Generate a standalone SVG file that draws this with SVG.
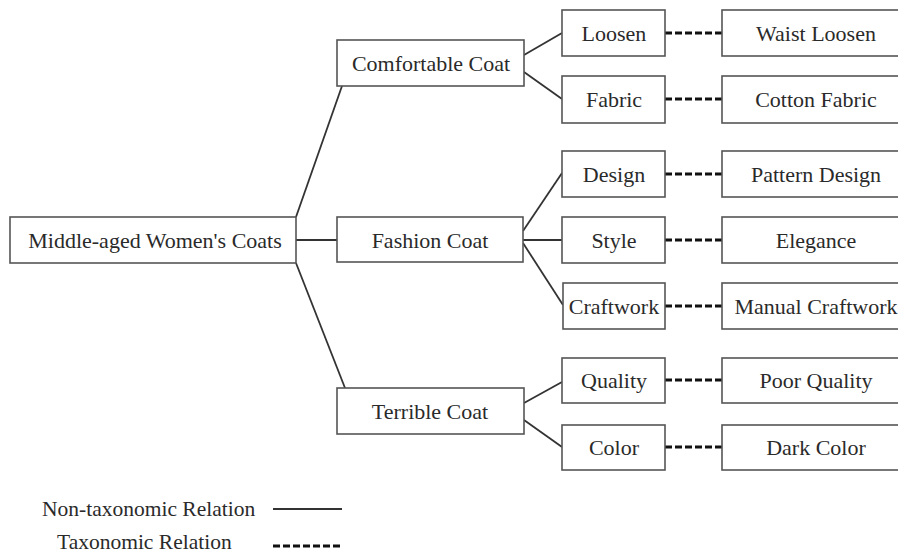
<svg xmlns="http://www.w3.org/2000/svg" width="898" height="555" viewBox="0 0 898 555">
<style>
.box{fill:#fff;stroke:#555;stroke-width:1.6}
.t{font-family:"Liberation Serif","Times New Roman",serif;font-size:22px;fill:#2a2a2a;text-anchor:middle;dominant-baseline:central}
.lg{font-family:"Liberation Serif","Times New Roman",serif;font-size:21.5px;fill:#2a2a2a;dominant-baseline:central}
.solid{stroke:#333;stroke-width:1.8;fill:none}
.dash{stroke:#111;stroke-width:3;stroke-dasharray:7 3;fill:none}
</style>
<rect width="898" height="555" fill="#fff"/>
<g id="connectors">
<line class="solid" x1="296" y1="217" x2="342" y2="86"/>
<line class="solid" x1="296" y1="240" x2="337" y2="240"/>
<line class="solid" x1="296" y1="263" x2="345" y2="388"/>
<line class="solid" x1="524" y1="55" x2="562" y2="33"/>
<line class="solid" x1="524" y1="72" x2="562" y2="99"/>
<line class="solid" x1="523" y1="231" x2="562" y2="173"/>
<line class="solid" x1="523" y1="240" x2="562" y2="240"/>
<line class="solid" x1="523" y1="243" x2="563" y2="305"/>
<line class="solid" x1="524" y1="403" x2="562" y2="382"/>
<line class="solid" x1="524" y1="420" x2="562" y2="447"/>
<line class="dash" x1="665" y1="33" x2="722" y2="33"/>
<line class="dash" x1="665" y1="99" x2="722" y2="99"/>
<line class="dash" x1="665" y1="174" x2="722" y2="174"/>
<line class="dash" x1="665" y1="240" x2="722" y2="240"/>
<line class="dash" x1="665" y1="306" x2="722" y2="306"/>
<line class="dash" x1="665" y1="380" x2="722" y2="380"/>
<line class="dash" x1="665" y1="447" x2="722" y2="447"/>
</g>
<g id="root"><rect class="box" x="10" y="217" width="286" height="46"/><text class="t" x="155" y="240">Middle-aged Women's Coats</text></g>
<g id="comfortable"><rect class="box" x="337" y="40" width="187" height="46"/><text class="t" x="431" y="63">Comfortable Coat</text></g>
<g id="fashion"><rect class="box" x="337" y="217" width="186" height="45"/><text class="t" x="430" y="240">Fashion Coat</text></g>
<g id="terrible"><rect class="box" x="337" y="388" width="187" height="46"/><text class="t" x="430" y="411">Terrible Coat</text></g>
<g id="loosen"><rect class="box" x="562" y="10" width="103" height="46"/><text class="t" x="614" y="33">Loosen</text></g>
<g id="fabric"><rect class="box" x="562" y="76" width="103" height="47"/><text class="t" x="614" y="99">Fabric</text></g>
<g id="design"><rect class="box" x="562" y="151" width="103" height="46"/><text class="t" x="614" y="174">Design</text></g>
<g id="style"><rect class="box" x="562" y="217" width="103" height="46"/><text class="t" x="614" y="240">Style</text></g>
<g id="craftwork"><rect class="box" x="563" y="283" width="102" height="46"/><text class="t" x="614" y="306">Craftwork</text></g>
<g id="quality"><rect class="box" x="562" y="358" width="103" height="45"/><text class="t" x="614" y="380">Quality</text></g>
<g id="color"><rect class="box" x="562" y="425" width="103" height="45"/><text class="t" x="614" y="447">Color</text></g>
<g id="waist-loosen"><rect class="box" x="722" y="10" width="190" height="46"/><text class="t" x="816" y="33">Waist Loosen</text></g>
<g id="cotton-fabric"><rect class="box" x="722" y="76" width="190" height="47"/><text class="t" x="816" y="99">Cotton Fabric</text></g>
<g id="pattern-design"><rect class="box" x="722" y="151" width="190" height="46"/><text class="t" x="816" y="174">Pattern Design</text></g>
<g id="elegance"><rect class="box" x="722" y="217" width="190" height="46"/><text class="t" x="816" y="240">Elegance</text></g>
<g id="manual-craftwork"><rect class="box" x="722" y="283" width="190" height="46"/><text class="t" x="816" y="306">Manual Craftwork</text></g>
<g id="poor-quality"><rect class="box" x="722" y="358" width="190" height="45"/><text class="t" x="816" y="380">Poor Quality</text></g>
<g id="dark-color"><rect class="box" x="722" y="425" width="190" height="45"/><text class="t" x="816" y="447">Dark Color</text></g>
<g id="legend">
<text class="lg" x="42" y="509">Non-taxonomic Relation</text>
<line class="solid" x1="273" y1="509" x2="342" y2="509"/>
<text class="lg" x="57" y="542">Taxonomic Relation</text>
<line class="dash" x1="273" y1="546" x2="342" y2="546"/>
</g>
</svg>
